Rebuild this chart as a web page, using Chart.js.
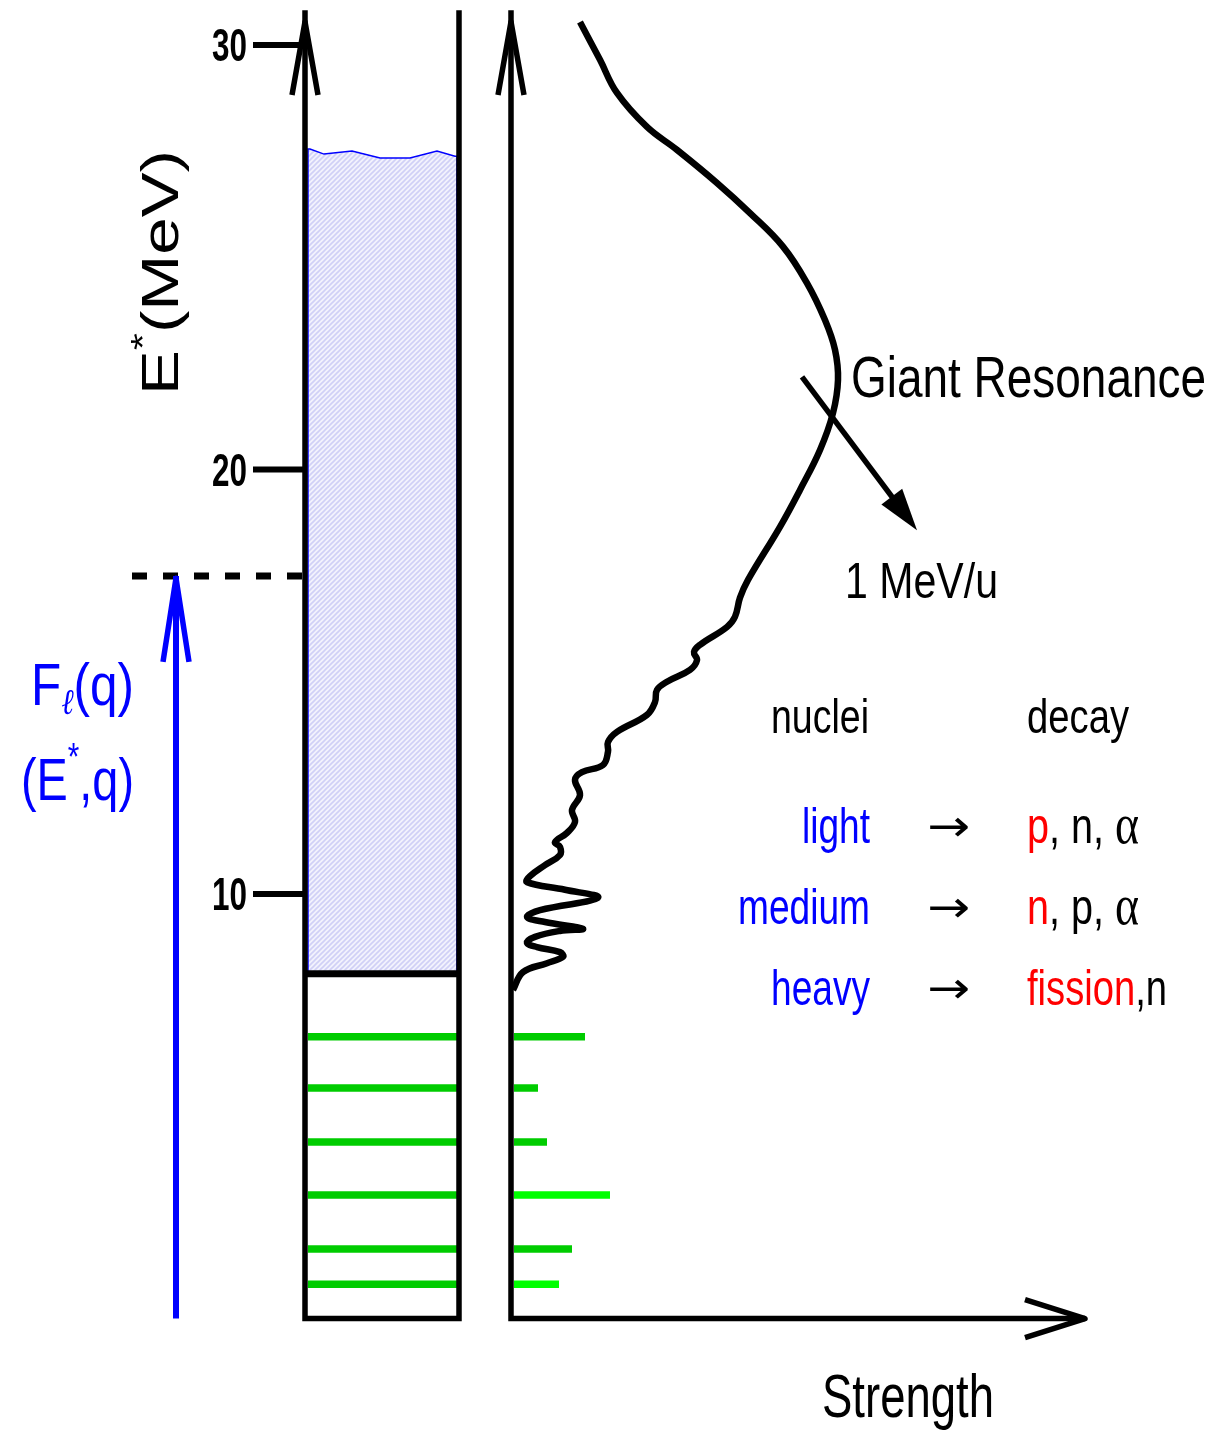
<!DOCTYPE html>
<html>
<head>
<meta charset="utf-8">
<script src="https://cdn.jsdelivr.net/npm/chart.js@4.4.1/dist/chart.umd.min.js"></script>
<style>
  html, body { margin: 0; padding: 0; background: #fff; }
  #wrap { width: 1215px; height: 1433px; }
</style>
</head>
<body>
<div id="wrap"><canvas id="c" width="1215" height="1433"></canvas></div>
<script>
// strength function, E* (MeV) vs strength (arb. units, 0 = strength axis)
const curveE = [7.74, 8.16, 8.37, 8.52, 8.63, 8.75, 8.85, 8.99, 9.13, 9.18, 9.34, 9.46, 9.62, 9.91,
  10.10, 10.28, 10.42, 10.68, 10.92, 11.11, 11.22, 11.44, 11.70, 11.98, 12.33, 12.69, 12.87, 13.04,
  13.35, 13.58, 13.82, 14.22, 14.52, 14.81, 15.00, 15.28, 15.51, 15.70, 15.87, 16.29, 16.53, 16.98,
  17.40, 18.65, 19.52, 20.46, 21.33, 22.11, 22.82, 23.52, 24.39, 25.25, 26.04, 26.75, 27.53, 28.07,
  28.87, 29.65, 30.54];
const curveS = [2, 12, 36, 52, 49, 26, 16, 24, 49, 72, 34, 16, 29, 87,
  54, 16, 19, 34, 49, 49, 44, 56, 64, 61, 69, 64, 71, 92,
  97, 97, 106, 136, 144, 146, 156, 179, 186, 183, 189, 216, 224, 229,
  237, 269, 289, 309, 322, 327, 324, 314, 296, 272, 239, 206, 166, 136,
  106, 89, 69];

// discrete levels below threshold
const levelE = [6.64, 5.43, 4.16, 2.91, 1.64, 0.81];
const levelS = [74, 27, 36, 99, 61, 48];
const levelBright = [false, false, false, true, false, true];

const thresholdE = 8.12;     // particle threshold
const probeE = 17.49;        // dashed line / blue arrow tip
const contTopX = [-201, -187, -159, -131, -101, -74, -56];
const contTopE = [27.55, 27.43, 27.50, 27.34, 27.34, 27.50, 27.38];
const tickLabels = [10, 20, 30];

// left box (level scheme) in x units
const boxL = -206, boxR = -52, inL = -203, inR = -54;
const axisTop = 30.82;

const SANS = '"Liberation Sans", Arial, sans-serif';

const hatch = (() => {
  const c = document.createElement('canvas');
  c.width = 5; c.height = 5;
  const g = c.getContext('2d');
  g.fillStyle = '#f2f2fd'; g.fillRect(0, 0, 5, 5);
  g.strokeStyle = '#d0d0f6'; g.lineWidth = 1.6;
  g.beginPath();
  g.moveTo(-1, 6); g.lineTo(6, -1);
  g.moveTo(-1, 1); g.lineTo(1, -1);
  g.moveTo(4, 6); g.lineTo(6, 4);
  g.stroke();
  return g.createPattern(c, 'repeat');
})();

const contPts = [{x: inL, y: thresholdE}, {x: inL, y: contTopE[0]}]
  .concat(contTopX.map((x, i) => ({x, y: contTopE[i]})))
  .concat([{x: inR, y: contTopE[contTopE.length - 1]}, {x: inR, y: thresholdE}, {x: inL, y: thresholdE}]);

const datasets = [
  { data: contPts, borderColor: '#0000ff', borderWidth: 1.5, backgroundColor: hatch, fill: 'shape', tension: 0 },
  ...levelE.map(e => ({ data: [{x: inL, y: e}, {x: inR, y: e}], borderColor: '#00cc00', borderWidth: 7.5 })),
  ...levelE.map((e, i) => ({ data: [{x: 3, y: e}, {x: levelS[i], y: e}],
    borderColor: levelBright[i] ? '#00ff00' : '#00cc00', borderWidth: 7.5 })),
  { data: curveE.map((e, i) => ({x: curveS[i], y: e})), borderColor: '#000', borderWidth: 6.5, tension: 0.4,
    borderJoinStyle: 'round', borderCapStyle: 'butt' }
];

function run(ctx, parts, x, y, width, align) {
  let total = 0;
  parts.forEach(p => { ctx.font = p.f; p.w = ctx.measureText(p.t).width; total += p.w; });
  const sx = width / total;
  const x0 = align === 'right' ? x - width : x;
  ctx.save();
  ctx.translate(x0, y);
  ctx.scale(sx, 1);
  ctx.textAlign = 'left';
  ctx.textBaseline = 'alphabetic';
  let cx = 0;
  parts.forEach(p => {
    ctx.font = p.f; ctx.fillStyle = p.c || '#000';
    ctx.fillText(p.t, cx, p.dy || 0);
    cx += p.w;
  });
  ctx.restore();
}

function openHead(ctx, tx, ty, bx, by, half) {
  // barbs of an open arrowhead, base centre (bx,by), tip (tx,ty)
  const dx = tx - bx, dy = ty - by, L = Math.hypot(dx, dy);
  const nx = -dy / L * half, ny = dx / L * half;
  ctx.save();
  ctx.lineJoin = 'round';
  ctx.beginPath();
  ctx.moveTo(bx + nx, by + ny); ctx.lineTo(tx, ty); ctx.lineTo(bx - nx, by - ny);
  ctx.stroke();
  ctx.restore();
}

const scheme = {
  id: 'scheme',
  afterDatasetsDraw(chart) {
    const ctx = chart.ctx;
    const X = v => chart.scales.x.getPixelForValue(v);
    const Y = v => chart.scales.y.getPixelForValue(v);
    ctx.save();
    ctx.strokeStyle = '#000';
    ctx.lineCap = 'butt';
    ctx.lineJoin = 'miter';

    // threshold line
    ctx.lineWidth = 7;
    ctx.beginPath(); ctx.moveTo(X(boxL), Y(thresholdE)); ctx.lineTo(X(boxR), Y(thresholdE)); ctx.stroke();

    // level-scheme box
    ctx.lineWidth = 5.5;
    ctx.beginPath();
    ctx.moveTo(X(boxL), Y(axisTop)); ctx.lineTo(X(boxL), Y(0));
    ctx.lineTo(X(boxR), Y(0)); ctx.lineTo(X(boxR), Y(axisTop));
    ctx.stroke();
    openHead(ctx, X(boxL), Y(30.55), X(boxL), Y(28.82), 13);

    // ticks
    ctx.lineWidth = 6;
    tickLabels.forEach(t => {
      ctx.beginPath(); ctx.moveTo(X(-258), Y(t)); ctx.lineTo(X(boxL), Y(t)); ctx.stroke();
    });

    // strength axes
    ctx.lineWidth = 5.5;
    ctx.beginPath();
    ctx.moveTo(X(0), Y(axisTop)); ctx.lineTo(X(0), Y(0)); ctx.lineTo(X(574), Y(0));
    ctx.stroke();
    openHead(ctx, X(0), Y(30.55), X(0), Y(28.82), 13);
    openHead(ctx, X(574), Y(0), X(514), Y(0), 19);

    // dashed probe line
    ctx.lineWidth = 7;
    ctx.setLineDash([15, 16]);
    ctx.beginPath(); ctx.moveTo(X(-379), Y(probeE)); ctx.lineTo(X(boxL), Y(probeE)); ctx.stroke();
    ctx.setLineDash([]);

    // blue excitation arrow
    ctx.strokeStyle = '#0000ff';
    ctx.lineWidth = 6;
    ctx.beginPath(); ctx.moveTo(X(-335), Y(0)); ctx.lineTo(X(-335), Y(probeE)); ctx.stroke();
    ctx.lineWidth = 5.5;
    openHead(ctx, X(-335), Y(probeE - 0.05), X(-335), Y(probeE - 2.02), 13);

    // "1 MeV/u" arrow across the resonance
    const ax = X(291), ay = Y(22.18), tx = X(406), ty = Y(18.57);
    const L = Math.hypot(tx - ax, ty - ay), ux = (tx - ax) / L, uy = (ty - ay) / L;
    ctx.strokeStyle = '#000';
    ctx.fillStyle = '#000';
    ctx.lineWidth = 5.5;
    ctx.beginPath(); ctx.moveTo(ax, ay); ctx.lineTo(tx - ux * 30, ty - uy * 30); ctx.stroke();
    ctx.beginPath();
    ctx.moveTo(tx, ty);
    ctx.lineTo(tx - ux * 42 - uy * 13, ty - uy * 42 + ux * 13);
    ctx.lineTo(tx - ux * 42 + uy * 13, ty - uy * 42 - ux * 13);
    ctx.closePath(); ctx.fill();
    ctx.restore();
  },
  afterDraw(chart) {
    const ctx = chart.ctx;
    const Y = v => chart.scales.y.getPixelForValue(v);
    const f = (s, w) => (w || '') + ' ' + s + 'px ' + SANS;

    tickLabels.forEach(t => run(ctx, [{t: String(t), f: f(46, 'bold')}], 247, Y(t) + 16, 35, 'right'));

    // rotated axis title
    ctx.save();
    ctx.translate(178, 395);
    ctx.rotate(-Math.PI / 2);
    run(ctx, [{t: 'E', f: f(52)}, {t: '*', f: f(34), dy: -24}, {t: '(MeV)', f: f(52)}], 0, 0, 245, 'left');
    ctx.restore();

    const blue = '#0000ff', red = '#ff0000';
    run(ctx, [{t: 'F', f: f(60), c: blue}, {t: 'ℓ', f: 'italic 36px "DejaVu Serif", serif', c: blue, dy: 9},
      {t: '(q)', f: f(60), c: blue}], 31, 705, 103, 'left');
    run(ctx, [{t: '(E', f: f(60), c: blue}, {t: '*', f: f(38), c: blue, dy: -30},
      {t: ',q)', f: f(60), c: blue}], 21, 800, 113, 'left');

    run(ctx, [{t: 'Giant Resonance', f: f(58)}], 851, 397, 355, 'left');
    run(ctx, [{t: '1 MeV/u', f: f(50)}], 845, 598, 153, 'left');

    run(ctx, [{t: 'nuclei', f: f(48)}], 771, 733, 98, 'left');
    run(ctx, [{t: 'decay', f: f(48)}], 1027, 733, 102, 'left');

    const alpha = {t: 'α', f: '58px "Liberation Serif", serif'};
    const rows = [
      {base: 843, name: 'light', nw: 68, decay: [{t: 'p', c: red}, {t: ', n, '}, alpha], dw: 112},
      {base: 924, name: 'medium', nw: 132, decay: [{t: 'n', c: red}, {t: ', p, '}, alpha], dw: 112},
      {base: 1005, name: 'heavy', nw: 99, decay: [{t: 'fission', c: red}, {t: ',n'}], dw: 140}
    ];
    rows.forEach(r => {
      run(ctx, [{t: r.name, f: f(50), c: blue}], 870, r.base, r.nw, 'right');
      run(ctx, [{t: '→', f: '44px "DejaVu Sans", sans-serif'}], 927, r.base - 2, 43, 'left');
      run(ctx, r.decay.map(p => ({t: p.t, f: p.f || f(50), c: p.c})), 1027, r.base, r.dw, 'left');
    });

    run(ctx, [{t: 'Strength', f: f(62)}], 822, 1417, 172, 'left');
  }
};

new Chart(document.getElementById('c').getContext('2d'), {
  type: 'line',
  data: { datasets },
  options: {
    responsive: false,
    devicePixelRatio: 1,
    animation: false,
    layout: { padding: 0 },
    elements: { point: { radius: 0, hoverRadius: 0 }, line: { fill: false } },
    plugins: { legend: { display: false }, tooltip: { enabled: false } },
    events: [],
    scales: {
      x: { type: 'linear', min: -511, max: 704, display: false },
      y: { type: 'linear', min: -2.697, max: 31.06, display: false }
    }
  },
  plugins: [scheme]
});
</script>
</body>
</html>
